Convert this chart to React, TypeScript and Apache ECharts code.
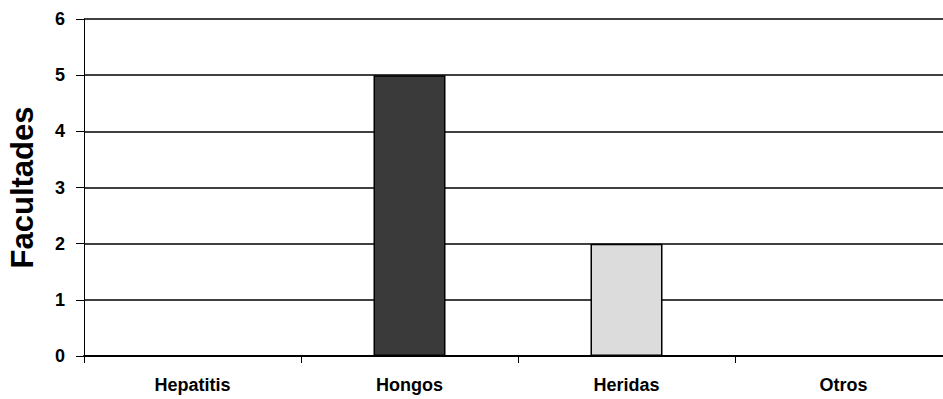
import React, { useEffect, useRef } from "react";
import * as echarts from "echarts";

const categories = ["Hepatitis", "Hongos", "Heridas", "Otros"];
const values = [0, 5, 2, 0];
const barColors = ["#3a3a3a", "#3a3a3a", "#dcdcdc", "#dcdcdc"];
const yTicks = { min: 0, max: 6, interval: 1 };

export default function App() {
  const ref = useRef<HTMLDivElement>(null);
  useEffect(() => {
    if (!ref.current) return;
    const chart = echarts.init(ref.current, undefined, { renderer: "svg" });
    chart.setOption({
      animation: false,
      backgroundColor: "#ffffff",
      grid: {
        left: 84,
        top: 19,
        bottom: 43,
        right: -9,
        containLabel: false,
        outerBoundsMode: "none",
      },
      xAxis: {
        type: "category",
        data: categories,
        axisLine: { show: true, lineStyle: { color: "#000", width: 2 } },
        axisTick: { show: true, length: 7, lineStyle: { color: "#000", width: 1 } },
        axisLabel: {
          color: "#000",
          fontFamily: "Liberation Sans, Arial, sans-serif",
          fontSize: 18,
          fontWeight: "bold",
          margin: 20,
        },
      },
      yAxis: {
        type: "value",
        min: yTicks.min,
        max: yTicks.max,
        interval: yTicks.interval,
        name: "Facultades",
        nameLocation: "middle",
        nameGap: 46,
        nameTextStyle: {
          color: "#000",
          fontFamily: "Liberation Sans, Arial, sans-serif",
          fontSize: 31,
          fontWeight: "bold",
        },
        axisLine: { show: true, lineStyle: { color: "#000", width: 1 } },
        axisTick: { show: true, length: 8, lineStyle: { color: "#000", width: 1 } },
        axisLabel: {
          color: "#000",
          fontFamily: "Liberation Sans, Arial, sans-serif",
          fontSize: 18,
          fontWeight: "bold",
          margin: 19,
        },
        splitLine: { show: true, lineStyle: { color: "#000", width: 1.5 } },
      },
      series: [
        {
          type: "bar",
          barWidth: 72,
          data: values.map((v, i) => ({
            value: v,
            itemStyle: {
              color: barColors[i],
              borderColor: "#000",
              borderWidth: v > 0 ? 1.5 : 0,
            },
          })),
        },
      ],
    });
    return () => chart.dispose();
  }, []);
  return (
    <div
      ref={ref}
      style={{ position: "fixed", left: 0, top: 0, width: 943, height: 399 }}
    />
  );
}
